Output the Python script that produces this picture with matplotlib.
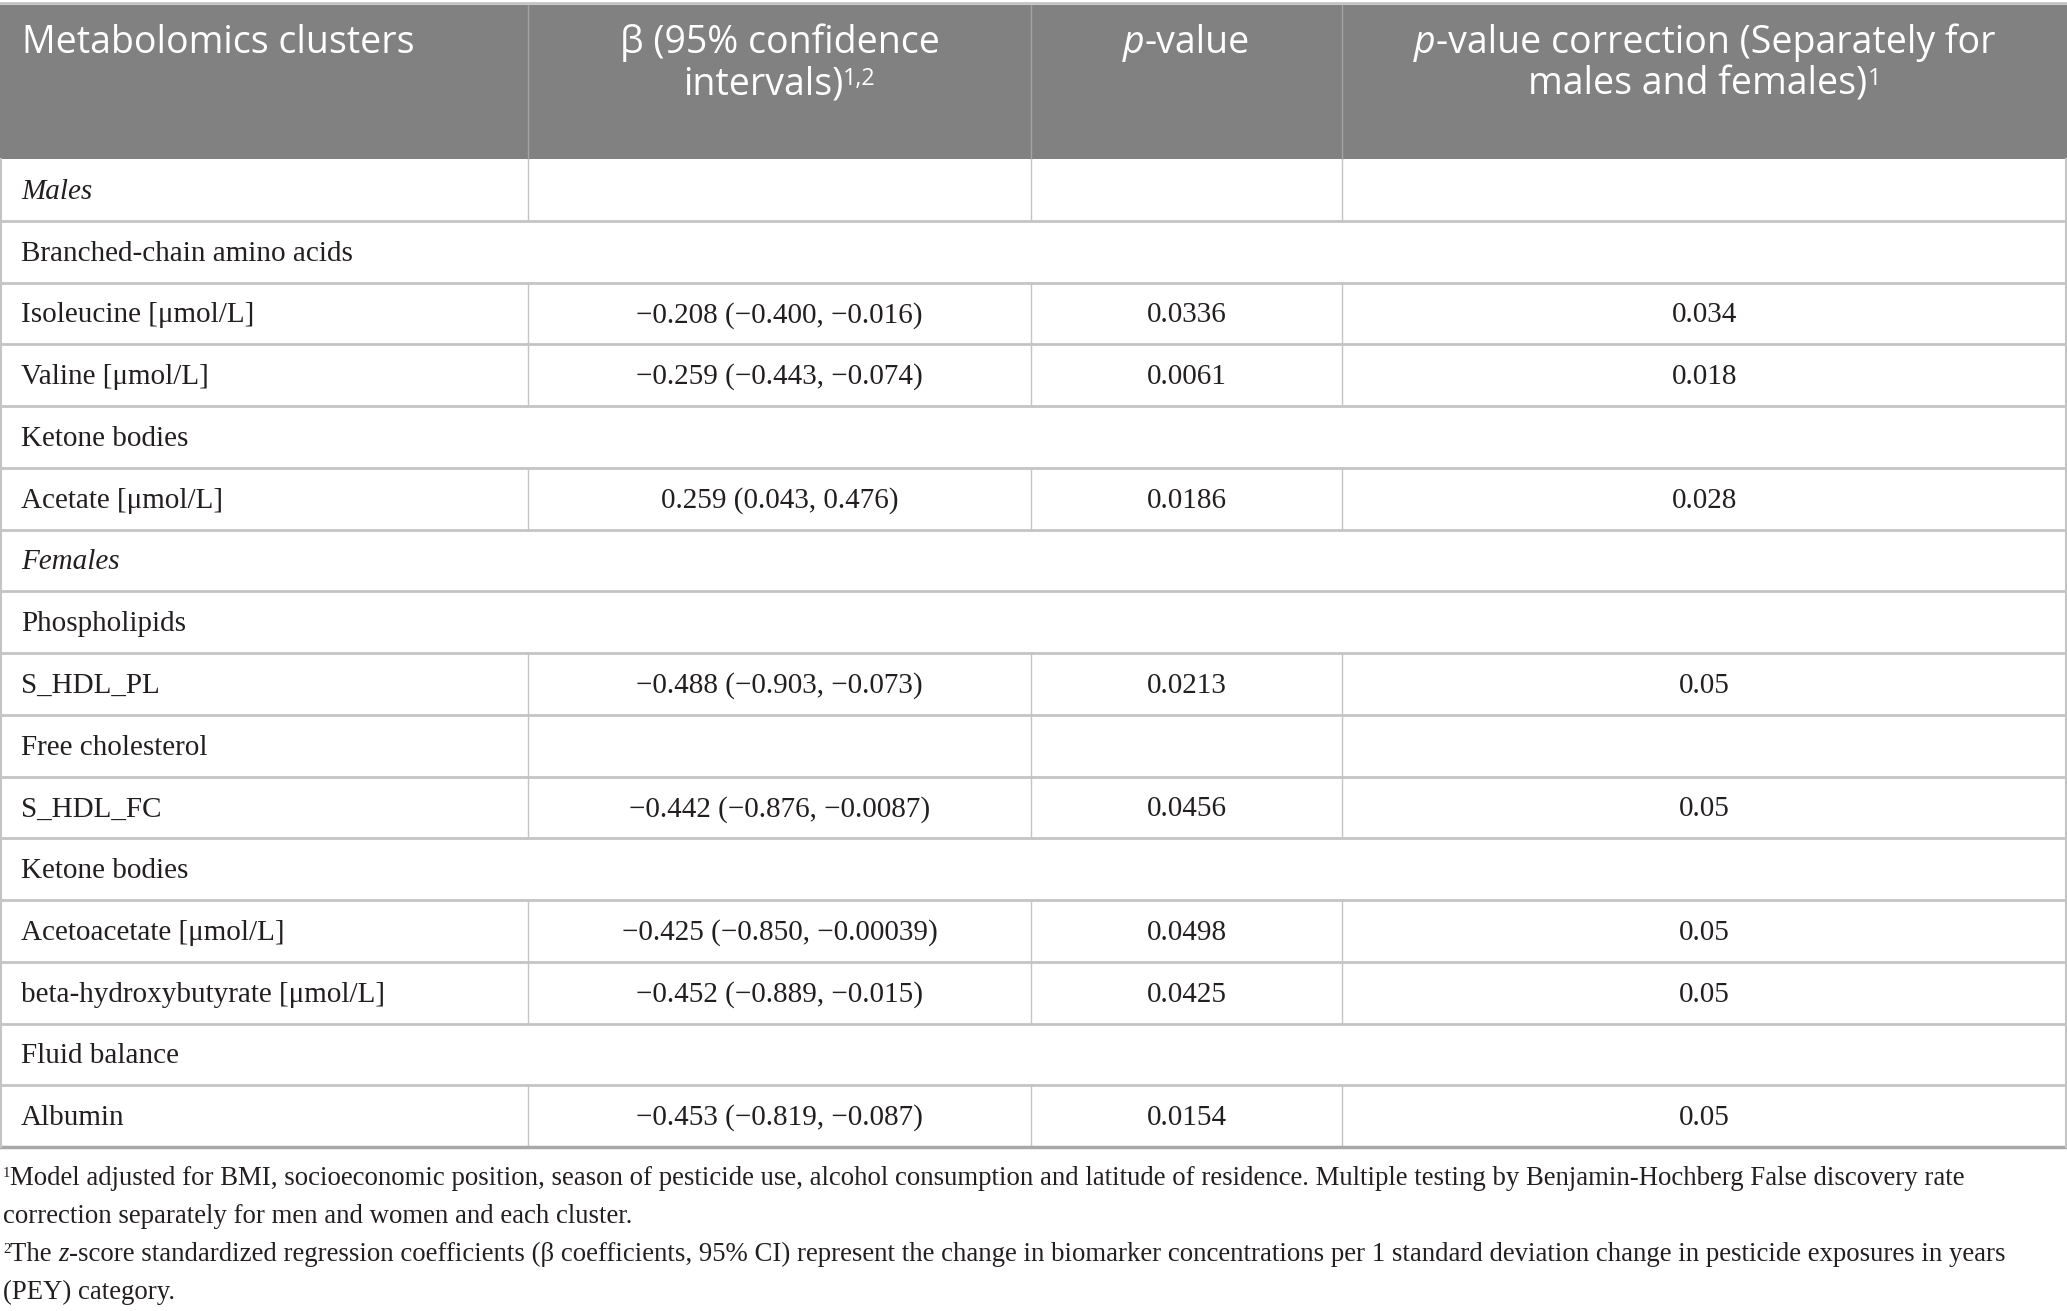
import matplotlib
matplotlib.use("Agg")
import matplotlib.pyplot as plt

# table content
row_labels = [
    "Males",
    "Branched-chain amino acids",
    "Isoleucine [μmol/L]",
    "Valine [μmol/L]",
    "Ketone bodies",
    "Acetate [μmol/L]",
    "Females",
    "Phospholipids",
    "S_HDL_PL",
    "Free cholesterol",
    "S_HDL_FC",
    "Ketone bodies",
    "Acetoacetate [μmol/L]",
    "beta-hydroxybutyrate [μmol/L]",
    "Fluid balance",
    "Albumin",
]
beta_ci = ["", "", "−0.208 (−0.400, −0.016)", "−0.259 (−0.443, −0.074)", "",
           "0.259 (0.043, 0.476)", "", "", "−0.488 (−0.903, −0.073)", "",
           "−0.442 (−0.876, −0.0087)", "", "−0.425 (−0.850, −0.00039)",
           "−0.452 (−0.889, −0.015)", "", "−0.453 (−0.819, −0.087)"]
p_values = ["", "", "0.0336", "0.0061", "", "0.0186", "", "", "0.0213", "",
            "0.0456", "", "0.0498", "0.0425", "", "0.0154"]
p_corrected = ["", "", "0.034", "0.018", "", "0.028", "", "", "0.05", "",
               "0.05", "", "0.05", "0.05", "", "0.05"]
# group rows that still keep the column dividers
boxed_groups = ["Males", "Free cholesterol"]
italic_labels = ["Males", "Females"]

footnote_1 = ("Model adjusted for BMI, socioeconomic position, season of pesticide use, "
              "alcohol consumption and latitude of residence. Multiple testing by "
              "Benjamin-Hochberg False discovery rate")
footnote_1b = "correction separately for men and women and each cluster."
footnote_2 = ("-score standardized regression coefficients (β coefficients, 95% CI) "
              "represent the change in biomarker concentrations per 1 standard deviation "
              "change in pesticide exposures in years")
footnote_2b = "(PEY) category."

W, H = 2067, 1311
fig = plt.figure(figsize=(W / 100, H / 100), dpi=100)
ax = fig.add_axes([0, 0, 1, 1])
ax.set_xlim(0, W)
ax.set_ylim(H, 0)
ax.axis("off")
renderer = fig.canvas.get_renderer()

SANS = "Open Sans"
SERIF = "Liberation Serif"
HEAD_FS = 27
BODY_FS = 21
FOOT_FS = 19.3
TXT = "#231f20"
HEAD_BG = "#808180"
LINE = "#c4c4c4"

col_x = [0, 528, 1031, 1342, W]
head_top, head_bot = 5, 159
row_h = 61.75


def draw_runs(x, y, runs, ha="left"):
    # runs: list of (text, kwargs, raise_px); drawn on a common baseline
    items = []
    total = 0
    for s, kw, rise in runs:
        t = ax.text(0, y - rise, s, va="baseline", ha="left", **kw)
        w = t.get_window_extent(renderer).width
        items.append((t, w))
        total += w
    start = x - total / 2 if ha == "center" else x
    for t, w in items:
        t.set_x(start)
        start += w


# header
ax.add_patch(plt.Rectangle((0, head_top), W, head_bot - head_top, color=HEAD_BG, lw=0))
ax.plot([0, W], [2.5, 2.5], color=LINE, lw=2)
for xv in col_x[1:-1]:
    ax.plot([xv, xv], [head_top, head_bot], color="#a3a3a3", lw=1)

hn = dict(family=SANS, fontsize=HEAD_FS, color="white")
hi = dict(family=SANS, fontsize=HEAD_FS, color="white", style="italic")
hs = dict(family=SANS, fontsize=HEAD_FS * 0.62, color="white")
l1, l2 = 53, 94
draw_runs(22, l1, [("Metabolomics clusters", hn, 0)])
c2 = (col_x[1] + col_x[2]) / 2
c3 = (col_x[2] + col_x[3]) / 2
c4 = (col_x[3] + col_x[4]) / 2
draw_runs(c2, l1, [("β (95% confidence", hn, 0)], "center")
draw_runs(c2, l2, [("intervals)", hn, 0), ("1,2", hs, 9)], "center")
draw_runs(c3, l1, [("p", hi, 0), ("-value", hn, 0)], "center")
draw_runs(c4, l1, [("p", hi, 0), ("-value correction (Separately for", hn, 0)], "center")
draw_runs(c4, l2, [("males and females)", hn, 0), ("1", hs, 9)], "center")

# body rows
bn = dict(family=SERIF, fontsize=BODY_FS, color=TXT)
bi = dict(family=SERIF, fontsize=BODY_FS, color=TXT, style="italic")
for i, lab in enumerate(row_labels):
    top = head_bot + i * row_h
    bot = top + row_h
    yc = (top + bot) / 2
    is_data = beta_ci[i] != ""
    if is_data or lab in boxed_groups:
        for xv in col_x[1:-1]:
            ax.plot([xv, xv], [top, bot], color=LINE, lw=1)
    last = i == len(row_labels) - 1
    ax.plot([0, W], [bot, bot], color="#a8a8a8" if last else LINE, lw=2.5 if last else 2)
    draw_runs(21, yc + 9, [(lab, bi if lab in italic_labels else bn, 0)])
    if is_data:
        draw_runs(c2, yc + 9, [(beta_ci[i], bn, 0)], "center")
        draw_runs(c3, yc + 9, [(p_values[i], bn, 0)], "center")
        draw_runs(c4, yc + 9, [(p_corrected[i], bn, 0)], "center")

table_bot = head_bot + len(row_labels) * row_h
ax.plot([1, 1], [head_bot, table_bot], color=LINE, lw=1.5)
ax.plot([W - 1, W - 1], [head_bot, table_bot], color=LINE, lw=1.5)

# footnotes
fn = dict(family=SERIF, fontsize=FOOT_FS, color=TXT)
fi = dict(family=SERIF, fontsize=FOOT_FS, color=TXT, style="italic")
fs = dict(family=SERIF, fontsize=FOOT_FS * 0.55, color=TXT)
draw_runs(3, 1185, [("1", fs, 8), (footnote_1, fn, 0)])
draw_runs(3, 1223, [(footnote_1b, fn, 0)])
draw_runs(3, 1261, [("2", fs, 8), ("The ", fn, 0), ("z", fi, 0), (footnote_2, fn, 0)])
draw_runs(3, 1299, [(footnote_2b, fn, 0)])

fig.savefig("out.png", dpi=100)
